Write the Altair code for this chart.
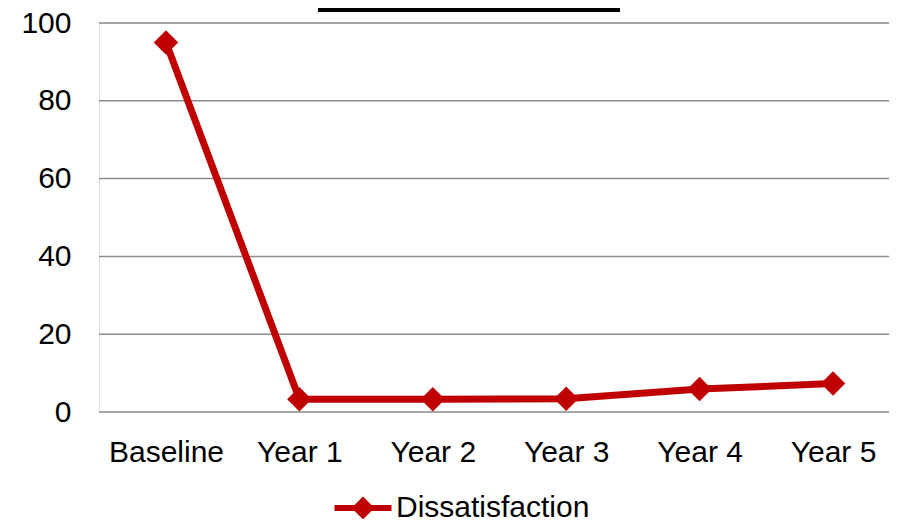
import altair as alt
import pandas as pd

categories = ["Baseline", "Year 1", "Year 2", "Year 3", "Year 4", "Year 5"]
values = [95, 3.3, 3.3, 3.4, 5.9, 7.3]
series_name = "Dissatisfaction"
y_ticks = [0, 20, 40, 60, 80, 100]

df = pd.DataFrame({"cat": categories, "val": values, "series": [series_name] * len(categories)})
grid_df = pd.DataFrame({"val": y_ticks})

RED = "#C00000"
FONT = "Liberation Sans"
FS = 30
W, H = 790, 389

legend = alt.Legend(
    title=None,
    orient="none",
    legendX=245,
    legendY=466,
    padding=0,
    labelFont=FONT,
    labelFontSize=FS,
    labelColor="#000000",
    labelOffset=14,
    labelLimit=0,
    symbolType="M -1.5 -0.16 L 1.5 -0.16 L 1.5 0.16 L -1.5 0.16 Z M 0 -0.6 L 0.6 0 L 0 0.6 L -0.6 0 Z",
    symbolSize=1444,
    symbolFillColor=RED,
    symbolStrokeColor=RED,
    symbolStrokeWidth=0,
)

color = alt.Color("series:N", scale=alt.Scale(range=[RED]), legend=legend)

x = alt.X(
    "cat:N",
    sort=categories,
    scale=alt.Scale(type="point", range=[67, 734], padding=0),
    axis=alt.Axis(
        title=None, labelAngle=0, domain=False, ticks=False, tickSize=0, grid=False,
        labelFont=FONT, labelFontSize=FS, labelColor="#000000", labelPadding=25,
    ),
)
y = alt.Y(
    "val:Q",
    scale=alt.Scale(domain=[0, 100], nice=False),
    axis=alt.Axis(
        title=None, values=y_ticks, domain=False, ticks=False, tickSize=0, grid=False,
        labelFont=FONT, labelFontSize=FS, labelColor="#000000", labelPadding=28,
    ),
)

grid = alt.Chart(grid_df).mark_rule(color="#8c8c8c", strokeWidth=1.5).encode(
    y=y,
    x=alt.value(0),
    x2=alt.value(W + 10),
)

base = alt.Chart(df)
line = base.mark_line(strokeWidth=7, color=RED).encode(x=x, y=y, color=color)
points = base.mark_point(shape="diamond", filled=True, size=600, opacity=1, color=RED).encode(
    x=x, y=y, color=color
)

bar = alt.Chart(alt.Data(values=[{}])).mark_rect(color="#000000").encode(
    x=alt.value(219), x2=alt.value(521), y=alt.value(-15), y2=alt.value(-11)
)

chart = (
    alt.layer(grid, line, points, bar)
    .properties(
        width=W,
        height=H,
        autosize=alt.AutoSizeParams(type="none"),
        padding={"left": 91, "top": 15, "right": 0, "bottom": 107},
    )
    .configure_view(stroke="transparent", strokeWidth=0, fill="#ffffff")
    .configure_axis(domain=False, ticks=False, grid=False)
    .configure(background="#ffffff")
)

chart.save("out.html", embed_options={"renderer": "svg", "actions": False})
